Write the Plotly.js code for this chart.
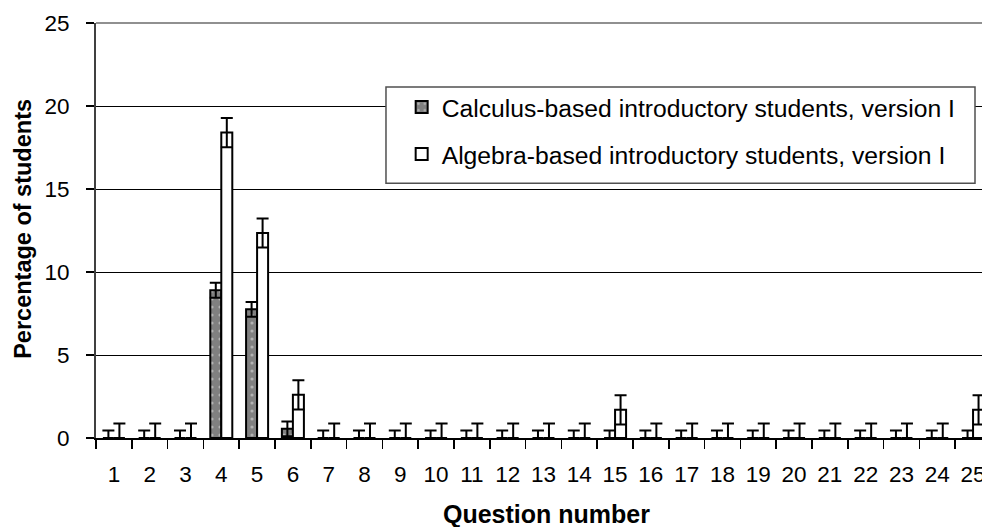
<!DOCTYPE html>
<html>
<head>
<meta charset="utf-8">
<script src="https://cdn.plot.ly/plotly-3.0.1.min.js"></script>
<style>html,body{margin:0;padding:0;background:#fff;}#chart{width:982px;height:527px;}</style>
</head>
<body>
<div id="chart"></div>
<script>
var questions = ['1','2','3','4','5','6','7','8','9','10','11','12','13','14','15','16','17','18','19','20','21','22','23','24','25'];
var calculus = [0,0,0,8.9,7.75,0.55,0,0,0,0,0,0,0,0,0,0,0,0,0,0,0,0,0,0,0];
var calculusErr = [0.45,0.45,0.45,0.45,0.45,0.45,0.45,0.45,0.45,0.45,0.45,0.45,0.45,0.45,0.45,0.45,0.45,0.45,0.45,0.45,0.45,0.45,0.45,0.45,0.45];
var algebra = [0,0,0,18.4,12.35,2.6,0,0,0,0,0,0,0,0,1.7,0,0,0,0,0,0,0,0,0,1.7];
var algebraErr = [0.88,0.88,0.88,0.88,0.88,0.88,0.88,0.88,0.88,0.88,0.88,0.88,0.88,0.88,0.88,0.88,0.88,0.88,0.88,0.88,0.88,0.88,0.88,0.88,0.88];
var seriesNames = ['Calculus-based introductory students, version I','Algebra-based introductory students, version I'];
var xTitle = 'Question number';
var yTitle = 'Percentage of students';

var font = 'Liberation Sans, Arial, sans-serif';

var traces = [
  {
    type: 'bar', x: questions, y: calculus, name: seriesNames[0], legendgroup: 'a',
    marker: {color: '#808080', line: {color: '#000', width: 2},
             pattern: {shape: '.', bgcolor: '#808080', fgcolor: '#b4b4b4', size: 8, solidity: 0.12}},
    error_y: {type: 'data', array: calculusErr, visible: true, color: '#000', thickness: 2, width: 6}
  },
  {
    type: 'bar', x: questions, y: algebra, name: seriesNames[1], legendgroup: 'b',
    marker: {color: '#ffffff', line: {color: '#000', width: 2}},
    error_y: {type: 'data', array: algebraErr, visible: true, color: '#000', thickness: 2, width: 6}
  }
];

var layout = {
  width: 982, height: 527,
  margin: {l: 96, r: 0, t: 23, b: 89, pad: 0},
  paper_bgcolor: '#fff', plot_bgcolor: '#fff',
  font: {family: font, color: '#000', size: 22},
  barmode: 'group', bargap: 0.385, bargroupgap: 0,
  showlegend: true,
  legend: {
    x: 0.345, xanchor: 'left', y: 0.852, yanchor: 'top',
    bgcolor: 'rgba(0,0,0,0)', borderwidth: 0,
    font: {family: font, size: 24.7, color: '#000'},
    traceorder: 'grouped', tracegroupgap: 12, itemclick: false
  },
  xaxis: {
    type: 'category', range: [-0.5, 24.25], automargin: false,
    showline: true, linecolor: '#000', linewidth: 2,
    ticks: 'outside', tickson: 'boundaries', ticklen: 9, tickwidth: 1.5, tickcolor: '#000',
    ticklabelstandoff: 15,
    tickfont: {family: font, size: 22.5, color: '#000'},
    showgrid: false, zeroline: false
  },
  yaxis: {
    range: [0, 25], automargin: false, dtick: 5, tick0: 0,
    showline: true, linecolor: '#404040', linewidth: 2,
    ticks: 'outside', ticklen: 8, tickwidth: 1.5, tickcolor: '#000',
    ticklabelstandoff: 12,
    tickfont: {family: font, size: 22.5, color: '#000'},
    showgrid: true, gridcolor: '#000', gridwidth: 1, zeroline: false
  },
  annotations: [
    {text: xTitle, xref: 'paper', yref: 'paper', x: 0.508, y: -0.184, xanchor: 'center', yanchor: 'middle',
     showarrow: false, font: {family: font, size: 25, color: '#000', weight: 'bold'}},
    {text: yTitle, xref: 'paper', yref: 'paper', x: -0.0824, y: 0.504, xanchor: 'center', yanchor: 'middle',
     textangle: -90, showarrow: false, font: {family: font, size: 23.5, color: '#000', weight: 'bold'}}
  ],
  shapes: [
    {type: 'line', xref: 'paper', yref: 'paper', x0: 0, x1: 1, y0: 1, y1: 1, line: {color: '#909090', width: 2}, layer: 'above'},
    {type: 'rect', xref: 'paper', yref: 'paper', x0: 0.3273, x1: 0.9921, y0: 0.6137, y1: 0.8458,
     fillcolor: '#fff', line: {color: '#505050', width: 1.5}, layer: 'above'}
  ]
};

Plotly.newPlot('chart', traces, layout, {staticPlot: true, displayModeBar: false});
</script>
</body>
</html>
